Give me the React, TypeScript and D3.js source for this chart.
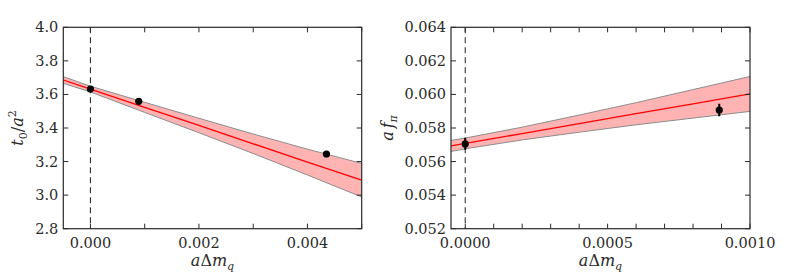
import * as d3 from 'd3';

// LEFT PANEL DATA: t0/a^2 vs a dm_q
const leftX = [0.0, 0.00089, 0.00435];
const leftY = [3.632, 3.559, 3.245];
const leftErr = [0.004, 0.004, 0.004];
const leftBandX = [-0.0005, 0.0, 0.001, 0.002, 0.003, 0.004, 0.005];
const leftFit = [3.686, 3.632, 3.523, 3.415, 3.306, 3.197, 3.089];
const leftUpper = [3.706, 3.649, 3.553, 3.458, 3.364, 3.274, 3.189];
const leftLower = [3.666, 3.615, 3.493, 3.372, 3.248, 3.12, 2.989];
const leftXTicks = [0, 0.001, 0.002, 0.003, 0.004, 0.005];
const leftXLabels = ['0.000', '', '0.002', '', '0.004', ''];
const leftYTicks = [2.8, 3.0, 3.2, 3.4, 3.6, 3.8, 4.0];
const leftYLabels = ['2.8', '3.0', '3.2', '3.4', '3.6', '3.8', '4.0'];

// RIGHT PANEL DATA: a f_pi vs a dm_q
const rightX = [0.0, 0.000892];
const rightY = [0.05705, 0.05907];
const rightErr = [0.00035, 0.00037];
const rightBandX = [-0.00005, 0.0, 0.0002, 0.0004, 0.0006, 0.0008, 0.001];
const rightFit = [0.056933, 0.05708, 0.05767, 0.05826, 0.05885, 0.05944, 0.06003];
const rightUpper = [0.05726, 0.0574, 0.05805, 0.05877, 0.05951, 0.06029, 0.06107];
const rightLower = [0.0566, 0.05676, 0.05729, 0.05775, 0.05819, 0.05859, 0.05899];
const rightXTicks = [0, 0.0001, 0.0002, 0.0003, 0.0004, 0.0005, 0.0006, 0.0007, 0.0008, 0.0009, 0.001];
const rightXLabels = ['0.0000', '', '', '', '', '0.0005', '', '', '', '', '0.0010'];
const rightYTicks = [0.052, 0.054, 0.056, 0.058, 0.06, 0.062, 0.064];
const rightYLabels = ['0.052', '0.054', '0.056', '0.058', '0.060', '0.062', '0.064'];

const FONT = "'DejaVu Serif', serif";
const INK = '#2a2a2a';

function Panel({ left, right, top, bottom, xDomain, yDomain, px, py, perr, bx, fit, up, lo, xTicks, xLabels, yTicks, yLabels, ylabel }) {
  const x = d3.scaleLinear().domain(xDomain).range([left, right]);
  const y = d3.scaleLinear().domain(yDomain).range([bottom, top]);
  const idx = d3.range(bx.length);

  const area = d3
    .area<number>()
    .x((i) => x(bx[i]))
    .y0((i) => y(lo[i]))
    .y1((i) => y(up[i]));
  const line = (arr: number[]) =>
    d3
      .line<number>()
      .x((i) => x(bx[i]))
      .y((i) => y(arr[i]))(idx);

  const tl = 5;
  return (
    <g>
      <defs>
        <clipPath id={`clip${left}`}>
          <rect x={left} y={top} width={right - left} height={bottom - top} />
        </clipPath>
      </defs>
      <g clipPath={`url(#clip${left})`}>
        <path d={area(idx)} fill="#ffb3b3" stroke="none" />
        <path d={line(up)} fill="none" stroke="#8c8c8c" strokeWidth={1} />
        <path d={line(lo)} fill="none" stroke="#8c8c8c" strokeWidth={1} />
        <path d={line(fit)} fill="none" stroke="#ff0000" strokeWidth={1.3} />
        <line x1={x(0)} x2={x(0)} y1={top} y2={bottom} stroke="#333" strokeWidth={1.1} strokeDasharray="6,4" />
        {px.map((v, i) => (
          <g key={i}>
            <line x1={x(v)} x2={x(v)} y1={y(py[i] - perr[i])} y2={y(py[i] + perr[i])} stroke="#000" strokeWidth={2} />
            <circle cx={x(v)} cy={y(py[i])} r={3.6} fill="#000" />
          </g>
        ))}
      </g>
      {xTicks.map((t, i) => (
        <g key={'x' + i}>
          <line x1={x(t)} x2={x(t)} y1={bottom} y2={bottom - tl} stroke={INK} />
          <line x1={x(t)} x2={x(t)} y1={top} y2={top + tl} stroke={INK} />
          {xLabels[i] && (
            <text x={x(t)} y={bottom + 19} textAnchor="middle" fontFamily={FONT} fontSize={14.5} fill={INK}>
              {xLabels[i]}
            </text>
          )}
        </g>
      ))}
      {yTicks.map((t, i) => (
        <g key={'y' + i}>
          <line x1={left} x2={left + tl} y1={y(t)} y2={y(t)} stroke={INK} />
          <line x1={right} x2={right - tl} y1={y(t)} y2={y(t)} stroke={INK} />
          <text x={left - 5} y={y(t) + 5} textAnchor="end" fontFamily={FONT} fontSize={14.5} fill={INK}>
            {yLabels[i]}
          </text>
        </g>
      ))}
      <rect x={left} y={top} width={right - left} height={bottom - top} fill="none" stroke={INK} strokeWidth={1.2} />
      <text x={(left + right) / 2} y={bottom + 37} textAnchor="middle" fontFamily={FONT} fontSize={16} fill={INK}>
        <tspan fontStyle="italic">a</tspan>
        <tspan>Δ</tspan>
        <tspan fontStyle="italic">m</tspan>
        <tspan fontStyle="italic" fontSize={11} dy={4}>q</tspan>
      </text>
      {ylabel}
    </g>
  );
}

export default function App() {
  const top = 27.3;
  const bottom = 228.7;
  const yMid = (top + bottom) / 2;
  return (
    <div style={{ position: 'absolute', left: 0, top: 0 }}>
      <svg width={789} height={276} style={{ display: 'block', background: '#fff' }}>
        <Panel
          left={63.3}
          right={361.7}
          top={top}
          bottom={bottom}
          xDomain={[-0.0005, 0.005]}
          yDomain={[2.8, 4.0]}
          px={leftX}
          py={leftY}
          perr={leftErr}
          bx={leftBandX}
          fit={leftFit}
          up={leftUpper}
          lo={leftLower}
          xTicks={leftXTicks}
          xLabels={leftXLabels}
          yTicks={leftYTicks}
          yLabels={leftYLabels}
          ylabel={
            <text transform={`translate(23,${yMid}) rotate(-90)`} textAnchor="middle" fontFamily={FONT} fontSize={16} fill={INK}>
              <tspan fontStyle="italic">t</tspan>
              <tspan fontSize={11} dy={4}>0</tspan>
              <tspan dy={-4}>/</tspan>
              <tspan fontStyle="italic">a</tspan>
              <tspan fontSize={11} dy={-7}>2</tspan>
            </text>
          }
        />
        <Panel
          left={451}
          right={750}
          top={top}
          bottom={bottom}
          xDomain={[-0.00005, 0.001]}
          yDomain={[0.052, 0.064]}
          px={rightX}
          py={rightY}
          perr={rightErr}
          bx={rightBandX}
          fit={rightFit}
          up={rightUpper}
          lo={rightLower}
          xTicks={rightXTicks}
          xLabels={rightXLabels}
          yTicks={rightYTicks}
          yLabels={rightYLabels}
          ylabel={
            <text transform={`translate(393,${yMid}) rotate(-90)`} textAnchor="middle" fontFamily={FONT} fontSize={16} fill={INK}>
              <tspan fontStyle="italic">a</tspan>
              <tspan fontStyle="italic" dx={3}>f</tspan>
              <tspan fontStyle="italic" fontSize={11} dy={4}>π</tspan>
            </text>
          }
        />
      </svg>
    </div>
  );
}
